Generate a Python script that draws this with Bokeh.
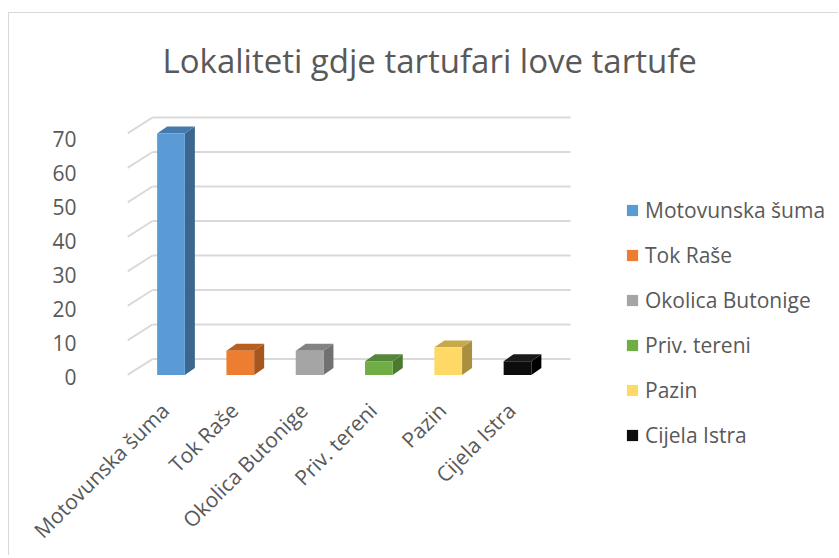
import math
from bokeh.plotting import figure
from bokeh.models import (ColumnDataSource, FixedTicker, Legend, LegendItem, Range1d,
                          LinearAxis)
from bokeh.embed import file_html
from bokeh.resources import INLINE

# ---- data ----
categories = ["Motovunska šuma", "Tok Raše", "Okolica Butonige", "Priv. tereni", "Pazin", "Cijela Istra"]
values = [70, 7, 7, 4, 8, 4]
front_colors = ["#5B9BD5", "#ED7D31", "#A5A5A5", "#70AD47", "#FFD966", "#0D0D0D"]
side_colors = ["#3B6690", "#A6561F", "#717171", "#4B7A2F", "#A89040", "#000000"]
top_colors = ["#4679AC", "#B9601F", "#838383", "#55873A", "#C8A94A", "#1A1A1A"]
y_ticks = [0, 10, 20, 30, 40, 50, 60, 70]
title_text = "Lokaliteti gdje tartufari love tartufe"

# ---- geometry (3D look) ----
PX_X = 69.3      # px per category
PX_Y = 3.47      # px per value unit
half = 0.2       # half bar width (category units)
bdx = 10 / PX_X  # bar depth offset x
bdy = 7 / PX_Y   # bar depth offset y
wdx = 25 / PX_X  # wall depth offset x
wdy = 16 / PX_Y  # wall depth offset y

OX, OY = 9, 13           # figure origin on the page
W, H = 830, 543
frame_left_pg, frame_top_pg, frame_bot_pg = 127, 100, 455
left_b = frame_left_pg - OX
top_b = frame_top_pg - OY
bottom_b = H - (frame_bot_pg - OY)
frame_w = W - left_b
frame_h = H - top_b - bottom_b
x0 = -(170.5 - frame_left_pg) / PX_X
y0 = -(frame_bot_pg - 376) / PX_Y

p = figure(width=W, height=H, output_backend="svg", toolbar_location=None,
           x_range=Range1d(x0, x0 + frame_w / PX_X),
           y_range=Range1d(y0, y0 + frame_h / PX_Y),
           min_border_left=left_b, min_border_top=top_b,
           min_border_bottom=bottom_b, min_border_right=0,
           title=title_text, x_axis_location=None, y_axis_location=None,
           styles={"margin-left": "9px", "margin-top": "13px",
                   "box-shadow": "-1px -1px 0 0 #D9D9D9"})
p.outline_line_color = None
p.xgrid.visible = False
p.ygrid.visible = False
p.background_fill_color = "white"
p.border_fill_color = "white"

p.title.text_font = "Open Sans"
p.title.text_font_size = "33px"
p.title.text_font_style = "normal"
p.title.text_color = "#595959"
p.title.align = "left"
p.title.offset = 35
p.title.standoff = 36

# label ranges: value labels sit on the front edge of the side wall
LBL_PX_Y = 3.43
p.extra_y_ranges = {"lbl": Range1d(-(frame_bot_pg - 378.5) / LBL_PX_Y,
                                   (378.5 - frame_top_pg) / LBL_PX_Y)}
x_shift = 6 / PX_X
p.extra_x_ranges = {"lbl": Range1d(x0 + x_shift, x0 + x_shift + frame_w / PX_X)}

# ---- walls / gridlines ----
x_back_end = (570 - 170.5) / PX_X
grid_src = ColumnDataSource(dict(
    xf=[x0] * len(y_ticks), yf=y_ticks,
    xb=[x0 + wdx] * len(y_ticks), yb=[v + wdy for v in y_ticks],
    xe=[x_back_end] * len(y_ticks)))
p.segment(x0="xf", y0="yf", x1="xb", y1="yb", source=grid_src, line_color="#D9D9D9", line_width=2)
p.segment(x0="xb", y0="yb", x1="xe", y1="yb", source=grid_src, line_color="#D9D9D9", line_width=2)

# ---- bars ----
idx = list(range(len(categories)))
side_xs, side_ys, top_xs, top_ys = [], [], [], []
for i, v in zip(idx, values):
    r = i + half
    l = i - half
    side_xs.append([r, r + bdx, r + bdx, r])
    side_ys.append([0, bdy, v + bdy, v])
    top_xs.append([l, r, r + bdx, l + bdx])
    top_ys.append([v, v, v + bdy, v + bdy])
p.patches(xs=side_xs, ys=side_ys, fill_color=side_colors, line_color=None)
p.patches(xs=top_xs, ys=top_ys, fill_color=top_colors, line_color=None)

front_src = ColumnDataSource(dict(x=idx, top=values, color=front_colors, cat=categories))
front = p.vbar(x="x", top="top", bottom=0, width=2 * half, fill_color="color",
               line_color=None, source=front_src)

# ---- axes ----
yaxis = LinearAxis(y_range_name="lbl", ticker=FixedTicker(ticks=y_ticks))
yaxis.axis_line_color = None
yaxis.major_tick_line_color = None
yaxis.minor_tick_line_color = None
yaxis.major_label_standoff = 45
yaxis.major_label_text_font = "Open Sans"
yaxis.major_label_text_font_size = "21px"
yaxis.major_label_text_color = "#595959"
p.add_layout(yaxis, "left")

xaxis = LinearAxis(x_range_name="lbl", ticker=FixedTicker(ticks=idx))
xaxis.major_label_overrides = {i: c for i, c in zip(idx, categories)}
xaxis.major_label_orientation = math.pi / 4
xaxis.axis_line_color = None
xaxis.major_tick_line_color = None
xaxis.minor_tick_line_color = None
xaxis.major_label_standoff = -(frame_bot_pg - 402)
xaxis.major_label_text_font = "Open Sans"
xaxis.major_label_text_font_size = "21px"
xaxis.major_label_text_color = "#595959"
p.add_layout(xaxis, "below")

# ---- legend ----
items = [LegendItem(label=c, renderers=[front], index=i) for i, c in enumerate(categories)]
legend = Legend(items=items, location=(625 - frame_left_pg, frame_bot_pg - 451))
legend.label_text_font = "Open Sans"
legend.label_text_font_size = "21px"
legend.label_text_color = "#595959"
legend.glyph_width = 14
legend.glyph_height = 14
legend.label_height = 20
legend.spacing = 17
legend.padding = 0
legend.margin = 0
legend.label_standoff = 6
legend.border_line_color = None
legend.background_fill_alpha = 0
p.add_layout(legend)

open("out.html", "w").write(file_html(p, INLINE))
